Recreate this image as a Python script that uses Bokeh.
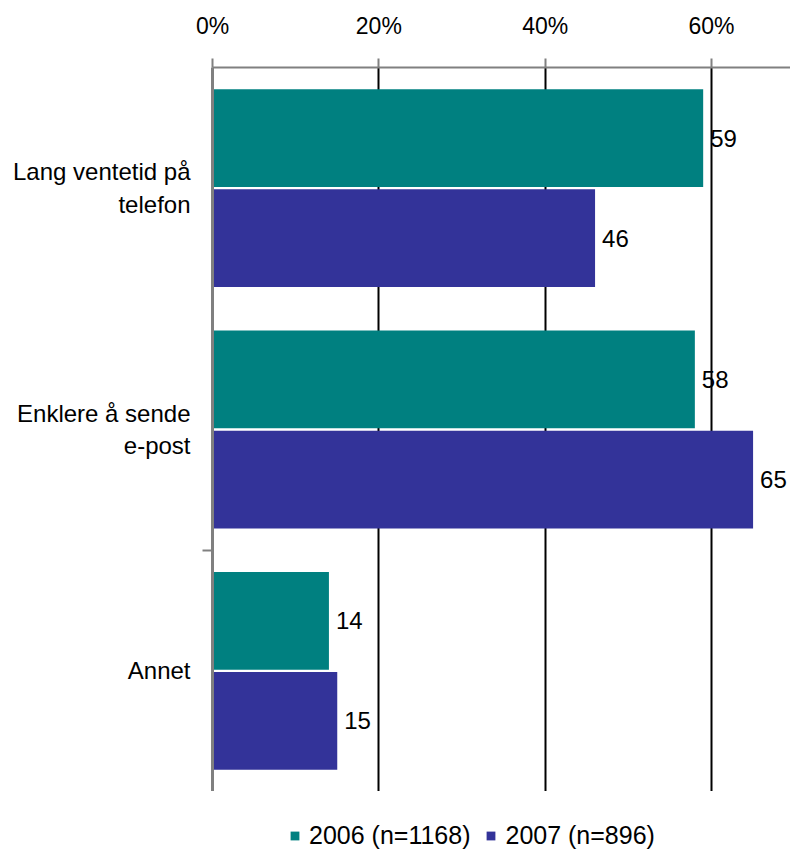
from bokeh.plotting import figure
from bokeh.layouts import column
from bokeh.models import (Range1d, FixedTicker, ColumnDataSource, Legend, LegendItem)
from bokeh.core.properties import value
from bokeh.embed import file_html
from bokeh.resources import INLINE

categories = ["Lang ventetid på\ntelefon", "Enklere å sende\ne-post", "Annet"]
series_names = ["2006 (n=1168)", "2007 (n=896)"]
values_2006 = [59, 58, 14]
values_2007 = [46, 65, 15]
x_ticks = [0, 20, 40, 60]
x_tick_labels = ["0%", "20%", "40%", "60%"]
colors = ["#008080", "#333399"]

FONT = "Liberation Sans"
W = 790
H_MAIN = 791
H_LEG = 59

p = figure(width=W, height=H_MAIN, output_backend="svg", toolbar_location=None,
           x_range=Range1d(0, 69.5), y_range=Range1d(3, 0),
           x_axis_location="above", y_axis_location="left",
           min_border_left=212, min_border_right=0, min_border_top=67,
           min_border_bottom=0)
p.outline_line_color = None
p.background_fill_color = "white"
p.border_fill_color = "white"

centers = [i + 0.5 for i in range(len(categories))]
dodge = 0.2075
bar_h = 0.405

src06 = ColumnDataSource(dict(y=[c - dodge for c in centers], v=values_2006,
                              lbl=[str(v) for v in values_2006]))
src07 = ColumnDataSource(dict(y=[c + dodge for c in centers], v=values_2007,
                              lbl=[str(v) for v in values_2007]))

p.hbar(y="y", right="v", left=0, height=bar_h, source=src06,
       fill_color=colors[0], line_color=None)
p.hbar(y="y", right="v", left=0, height=bar_h, source=src07,
       fill_color=colors[1], line_color=None)

for s in (src06, src07):
    p.text(x="v", y="y", text="lbl", source=s, x_offset=7,
           text_baseline="middle", text_align="left",
           text_font=value(FONT), text_font_size="24px", text_color="black")

xa = p.xaxis[0]
xa.ticker = FixedTicker(ticks=x_ticks)
xa.major_label_overrides = {t: l for t, l in zip(x_ticks, x_tick_labels)}
xa.major_label_text_font = FONT
xa.major_label_text_font_size = "23px"
xa.major_label_text_color = "black"
xa.major_label_standoff = 20
xa.axis_line_color = "#808080"
xa.axis_line_width = 2
xa.major_tick_line_color = "#808080"
xa.major_tick_line_width = 2
xa.major_tick_in = 0
xa.major_tick_out = 9
xa.minor_tick_line_color = None

ya = p.yaxis[0]
ya.ticker = FixedTicker(ticks=centers, minor_ticks=[2])
ya.major_label_overrides = {c: l for c, l in zip(centers, categories)}
ya.major_label_text_font = FONT
ya.major_label_text_font_size = "24px"
ya.major_label_text_color = "black"
ya.major_label_standoff = 12
ya.major_tick_line_color = None
ya.major_tick_in = 0
ya.major_tick_out = 0
ya.minor_tick_line_color = "#808080"
ya.minor_tick_line_width = 2
ya.minor_tick_in = 0
ya.minor_tick_out = 10
ya.axis_line_color = "#808080"
ya.axis_line_width = 3

p.xgrid.ticker = FixedTicker(ticks=[20, 40, 60])
p.xgrid.grid_line_color = "black"
p.xgrid.grid_line_width = 2
p.ygrid.grid_line_color = None

# Legend strip below the chart (its frame is aligned with the chart's frame)
pl = figure(width=W, height=H_LEG, output_backend="svg", toolbar_location=None,
            x_range=Range1d(0, 69.5), y_range=Range1d(100, 101),
            x_axis_location=None, y_axis_location=None,
            min_border=0)
pl.outline_line_color = None
pl.xgrid.grid_line_color = None
pl.ygrid.grid_line_color = None
# proxies for the legend swatches (outside this strip's visible range)
l06 = pl.hbar(y="y", right="v", left=0, height=bar_h, source=src06,
              fill_color=colors[0], line_color=None)
l07 = pl.hbar(y="y", right="v", left=0, height=bar_h, source=src07,
              fill_color=colors[1], line_color=None)

legend = Legend(items=[LegendItem(label=series_names[0], renderers=[l06]),
                       LegendItem(label=series_names[1], renderers=[l07])],
                orientation="horizontal", location=(77, 0),
                border_line_color=None, background_fill_alpha=0,
                padding=0, margin=0, spacing=15,
                glyph_width=11, glyph_height=11, label_standoff=9,
                label_text_font=FONT, label_text_font_size="25px",
                label_text_color="black", label_height=25)
pl.add_layout(legend, "center")

layout = column(p, pl, spacing=0)
open("out.html", "w").write(file_html(layout, INLINE))
